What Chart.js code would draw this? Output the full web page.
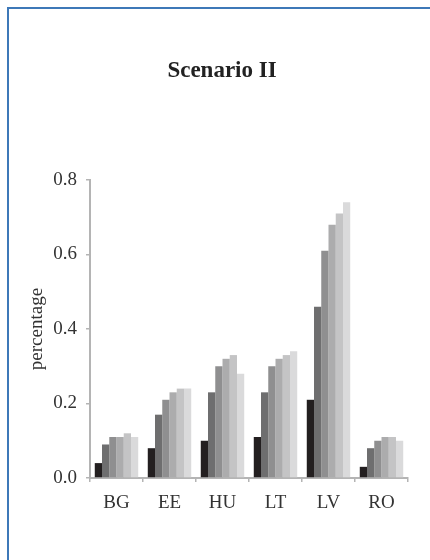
<!DOCTYPE html>
<html>
<head>
<meta charset="utf-8">
<script src="https://cdn.jsdelivr.net/npm/chart.js@4"></script>
<style>
    html, body { margin: 0; padding: 0; background: #fff; overflow: hidden; }
    #wrap { position: relative; width: 430px; height: 560px; }
    #frame {
        position: absolute; left: 7px; top: 7px; width: 440px; height: 570px;
        border: 2px solid #3d78b8; box-sizing: border-box;
    }
    canvas { position: absolute; left: 0; top: 0; }
</style>
</head>
<body>
<div id="wrap">
    <div id="frame"></div>
    <canvas id="chart" width="430" height="560"></canvas>
</div>
<script>
// Countries on the x axis
const countries = ['BG', 'EE', 'HU', 'LT', 'LV', 'RO'];

// Six series per country, darkest to lightest
const series1 = [0.04, 0.08, 0.10, 0.11, 0.21, 0.03];
const series2 = [0.09, 0.17, 0.23, 0.23, 0.46, 0.08];
const series3 = [0.11, 0.21, 0.30, 0.30, 0.61, 0.10];
const series4 = [0.11, 0.23, 0.32, 0.32, 0.68, 0.11];
const series5 = [0.12, 0.24, 0.33, 0.33, 0.71, 0.11];
const series6 = [0.11, 0.24, 0.28, 0.34, 0.74, 0.10];

const yTicks = [0.0, 0.2, 0.4, 0.6, 0.8];

const greys = ['#231f20', '#6e6e6f', '#8f8f90', '#acacad', '#c4c4c5', '#dadadb'];
const allSeries = [series1, series2, series3, series4, series5, series6];

const serif = '"Liberation Serif", "DejaVu Serif", serif';
const axisGrey = '#b4b4b4';

const ctx = document.getElementById('chart').getContext('2d');
new Chart(ctx, {
    type: 'bar',
    data: {
        labels: countries,
        datasets: allSeries.map((vals, i) => ({
            label: 'Series ' + (i + 1),
            data: vals,
            backgroundColor: greys[i],
            borderWidth: 0,
            barPercentage: 1.0,
            categoryPercentage: 0.82
        }))
    },
    options: {
        responsive: false,
        animation: false,
        layout: { padding: { left: 36, right: 22, top: 0, bottom: 0 } },
        plugins: {
            legend: { display: false },
            tooltip: { enabled: false },
            title: {
                display: true,
                text: 'Scenario II',
                color: '#222',
                font: { family: serif, size: 23, weight: 'bold' },
                padding: { top: 57, bottom: 95.4 }
            }
        },
        scales: {
            x: {
                grid: { drawOnChartArea: false, tickLength: 4, color: axisGrey, lineWidth: 1.5 },
                border: { color: axisGrey, width: 2 },
                ticks: { color: '#333', font: { family: serif, size: 19 }, padding: 10 },
                afterFit: (scale) => { scale.height = 82; }
            },
            y: {
                min: 0,
                max: 0.8,
                afterBuildTicks: (scale) => {
                    scale.ticks = yTicks.map(v => ({ value: v }));
                },
                grid: { drawOnChartArea: false, tickLength: 4, color: axisGrey, lineWidth: 1.5 },
                border: { color: axisGrey, width: 2 },
                ticks: {
                    color: '#333',
                    font: { family: serif, size: 19 },
                    padding: 9,
                    callback: (v) => Number(v).toFixed(1)
                },
                title: {
                    display: true,
                    text: 'percentage',
                    color: '#333',
                    font: { family: serif, size: 19 },
                    padding: { top: -10.4, bottom: 0 }
                },
                afterFit: (scale) => { scale.width = 54; }
            }
        }
    }
});
</script>
</body>
</html>
